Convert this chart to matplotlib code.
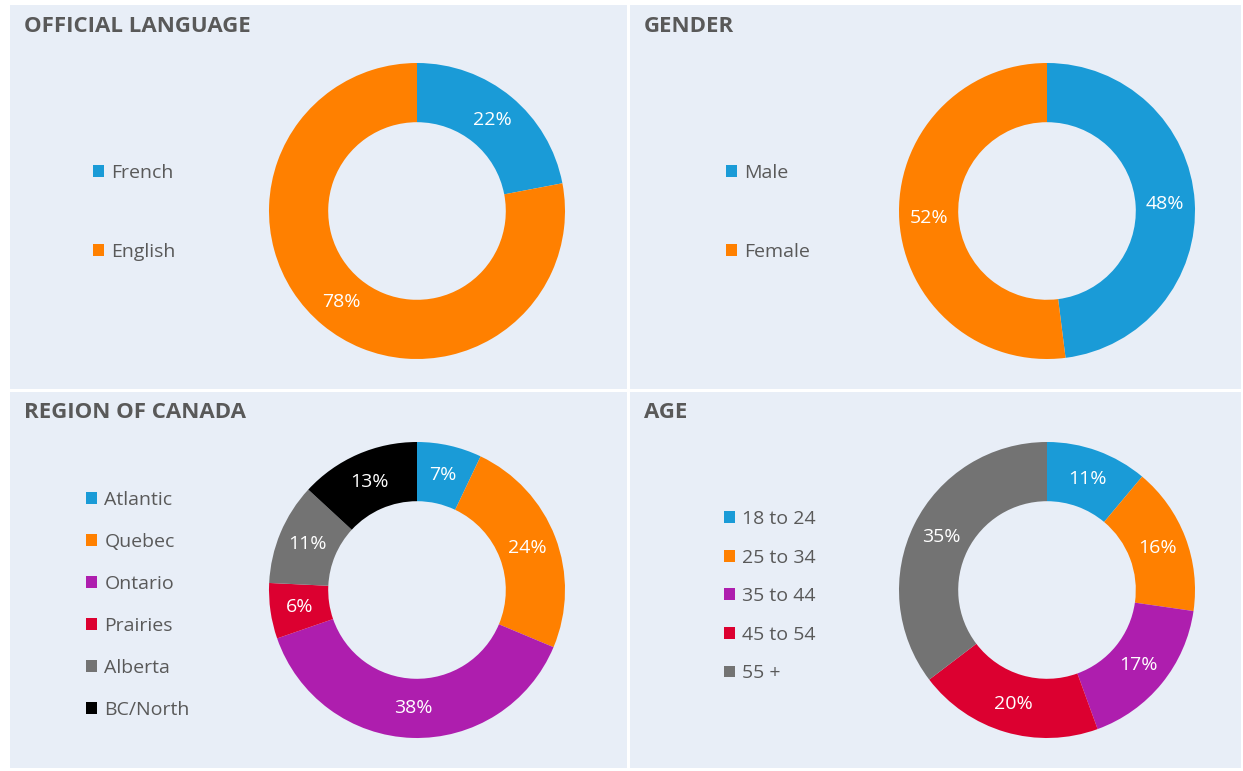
import numpy as np
import matplotlib
matplotlib.use("Agg")
import matplotlib.pyplot as plt
from matplotlib.patches import Patch

plt.rcParams['font.family'] = ['Open Sans', 'DejaVu Sans']

# ── data ──────────────────────────────────────────────────────────────────────
lang_labels = ["French", "English"]
lang_values = [22, 78]

gender_labels = ["Male", "Female"]
gender_values = [48, 52]

region_labels = ["Atlantic", "Quebec", "Ontario", "Prairies", "Alberta", "BC/North"]
region_values = [7, 24, 38, 6, 11, 13]

age_labels = ["18 to 24", "25 to 34", "35 to 44", "45 to 54", "55 +"]
age_values = [11, 16, 17, 20, 35]

BLUE, ORANGE, PURPLE, RED, GRAY, BLACK = "#1a9bd7", "#ff8000", "#ae1eae", "#dc0030", "#737373", "#000000"
PANEL_BG = "#e8eef7"
TEXT_GRAY = "#595959"

W, H = 1243, 771
fig = plt.figure(figsize=(W / 100, H / 100), dpi=100)
fig.patch.set_facecolor("white")


def px_axes(x0, y0, x1, y1):
    """axes from pixel box (top-left origin)"""
    return fig.add_axes([x0 / W, 1 - y1 / H, (x1 - x0) / W, (y1 - y0) / H])


def panel(box, title, labels, values, colors, center, leg_xy, leg_space):
    x0, y0, x1, y1 = box
    bg = px_axes(x0, y0, x1, y1)
    bg.set_facecolor(PANEL_BG)
    bg.set_xticks([]); bg.set_yticks([])
    for s in bg.spines.values():
        s.set_visible(False)
    fig.text((x0 + 14) / W, 1 - (y0 + 21) / H, title, fontsize=16, fontweight='bold',
             color=TEXT_GRAY, va='center', ha='left')

    R = 148
    cx, cy = center
    ax = px_axes(cx - R, cy - R, cx + R, cy + R)
    ax.set_facecolor("none")
    wedges, _ = ax.pie(values, colors=colors, startangle=90, counterclock=False,
                       radius=1.0, wedgeprops=dict(width=0.4, linewidth=0))
    ax.set_xlim(-1, 1); ax.set_ylim(-1, 1)
    ax.set_aspect('equal')
    ax.axis('off')
    for w, v in zip(wedges, values):
        mid = np.deg2rad((w.theta1 + w.theta2) / 2)
        ax.text(0.8 * np.cos(mid), 0.8 * np.sin(mid), f"{v}%", color="white",
                fontsize=14, ha='center', va='center')

    handles = [Patch(facecolor=c, edgecolor='none') for c in colors]
    fig.legend(handles, labels, loc='upper left',
               bbox_to_anchor=(leg_xy[0] / W, 1 - leg_xy[1] / H),
               frameon=False, fontsize=14, labelcolor=TEXT_GRAY,
               handlelength=0.55, handleheight=0.55, handletextpad=0.4,
               labelspacing=leg_space, borderpad=0, borderaxespad=0)


panel((10, 5, 627, 389), "OFFICIAL LANGUAGE", lang_labels, lang_values,
      [BLUE, ORANGE], (417, 211), (93, 164), 3.14)
panel((630, 5, 1241, 389), "GENDER", gender_labels, gender_values,
      [BLUE, ORANGE], (1047, 211), (726, 164), 3.14)
panel((10, 392, 627, 768), "REGION OF CANADA", region_labels, region_values,
      [BLUE, ORANGE, PURPLE, RED, GRAY, BLACK], (417, 590), (86, 491), 1.23)
panel((630, 392, 1241, 768), "AGE", age_labels, age_values,
      [BLUE, ORANGE, PURPLE, RED, GRAY], (1047, 590), (724, 510), 1.06)

fig.savefig("out.png", dpi=100, facecolor=fig.get_facecolor())
